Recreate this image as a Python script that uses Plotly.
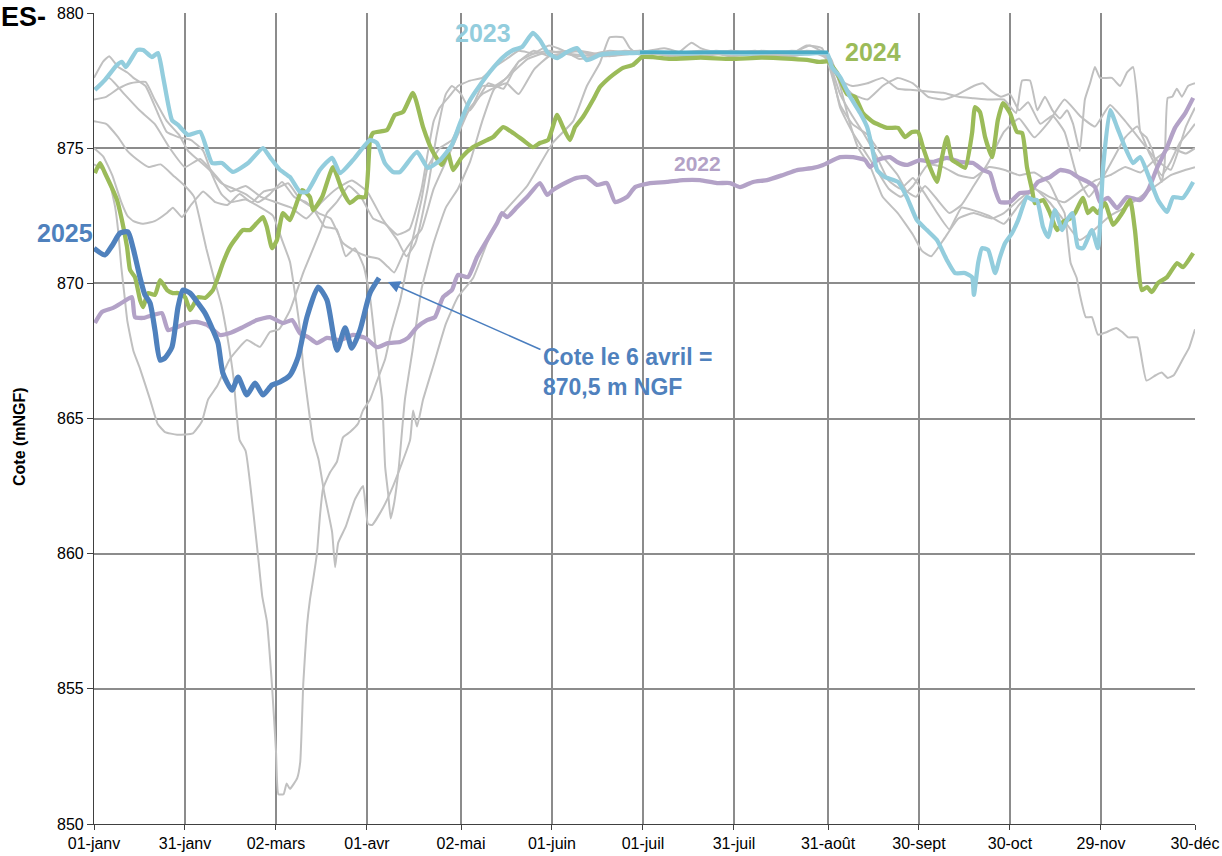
import plotly.graph_objects as go

# ---------------- data (day of year, level in m NGF) ----------------
tick_days = [0, 30, 60, 90, 121, 151, 181, 211, 242, 272, 302, 332, 363]
tick_labels = ["01-janv", "31-janv", "02-mars", "01-avr", "02-mai", "01-juin", "01-juil",
               "31-juil", "31-août", "30-sept", "30-oct", "29-nov", "30-déc"]

gray_1 = [(0,876.0),(4,875.9),(8,875.4),(11,874.9),(14,874.6),(18,874.3),(22,874.4),(26,874.0),(30,873.6),(33,873.2),
          (35,872.3),(37,871.3),(40,870.0),(42,869.2),(44,868.0),(46,866.5),(47,865.2),(48,864.2),(50,863.8),(54,860.0),
          (55.5,858.4),(57,857.5),(58.7,855.1),(60,852.7),(60.8,851.1),(62.5,851.1),(63.5,851.5),(64.6,851.3),(67,851.7),(68,852.3),
          (69,855.2),(70.2,857.3),(71.2,858.3),(72.2,859.0),(73.5,860.0),(74.5,861.4),(75.5,862.4),(77.8,863.0),(80.1,863.4),(82.1,864.3),
          (84.4,864.5),(87,864.8),(88.7,865.3),(91,865.7),(93,866.3),(96,867.2),(98,868.2),(101,869.4),(104,871.1),(106,872.1),
          (108,873.1),(110,874.3),(114,875.0),(118,875.3),(121,876.0),(125,876.6),(128,877.3),(132,877.3),(136,877.6),(140,878.2),
          (145,878.6),(150,878.4),(160,878.6),(170,878.4),(180,878.6),(190,878.5),(200,878.4),(210,878.6),(220,878.5),(230,878.4),
          (240,878.6),(243,878.3),(246,877.3),(249,876.0),(252,875.0),(256,874.3),(260,873.2),(265,872.6),(270,871.8),(273,871.2),
          (276,871.0),(280,871.6),(285,872.4),(290,872.6),(296,872.4),(300,872.6),(305,873.1),(310,873.5),(315,873.2),(320,873.0),
          (325,873.4),(330,873.8),(335,874.0),(340,874.3),(345,874.1),(350,874.6),(355,875.0),(360,874.8),(363,875.0)]

gray_2 = [(0,874.4),(3,874.2),(5,873.8),(7,872.8),(8,871.9),(9,870.6),(10,869.6),(11,868.6),(13,867.5),(15,866.9),
          (18.5,865.7),(21,864.8),(23.4,864.5),(27.4,864.4),(32.6,864.45),(35.6,864.9),(37.6,865.7),(40.6,866.2),(44.8,867.2),(50.4,867.9),
          (54.7,867.65),(58,868.2),(61,868.3),(64.6,869.0),(69,870.4),(71.2,871.0),(74.5,871.9),(76.8,872.6),(80,873.0),(84,873.6),
          (88,873.2),(92,872.4),(96,872.2),(100,871.8),(104,872.0),(108,873.5),(110,874.8),(112,876.0),(114,876.5),(117,876.9),
          (120,877.3),(124,877.5),(128,877.6),(132,878.0),(136,878.3),(140,878.6),(145,878.5),(150,878.6),(160,878.4),(170,878.6),
          (180,878.5),(190,878.5),(200,878.6),(210,878.4),(220,878.5),(230,878.6),(240,878.5),(243,878.0),(246,877.5),(250,877.3),
          (255,877.4),(260,877.6),(265,877.2),(270,877.15),(275,877.1),(280,877.05),(285,876.9),(290,876.85),(295,876.8),(300,876.8),
          (304,876.3),(306,877.5),(308.6,877.5),(311,876.4),(313.5,876.9),(316,876.4),(318.5,876.1),(320.8,876.4),(322.8,875.9),(325,874.9),
          (326.7,876.8),(328.4,877.4),(330,878.0),(331.7,877.6),(335.6,877.6),(338.3,877.3),(340.6,877.8),(342.6,878.0),(344,876.8),(345,875.6),
          (347,875.4),(349,874.9),(350.8,874.1),(352,873.75),(353,874.45),(354,876.86),(355.5,876.9),(357,877.2),(358.7,876.9),(360.7,877.3),
          (363,877.4)]

gray_3 = [(0,877.6),(3,878.2),(5,878.4),(8,878.0),(11,877.8),(13,877.6),(17,877.3),(21,876.3),(24,875.6),(28,875.4),
          (32,875.3),(36,874.9),(39,874.0),(42,873.3),(45,873.0),(50,873.1),(55,872.8),(59,872.5),(62,871.6),(64.6,870.8),
          (66.3,869.6),(68,868.2),(69,866.9),(70.5,865.6),(72.2,864.2),(74,863.5),(76,862.2),(78.5,860.8),(79.5,859.5),(80.5,860.4),
          (83,861.0),(86,862.0),(88.7,862.5),(90.3,861.1),(91.7,861.06),(95.3,861.7),(98.6,862.5),(104.2,864.2),(105.2,865.3),(106.5,864.7),
          (108.5,865.7),(112,867.0),(116,868.5),(120,869.5),(125,870.2),(130,871.6),(134.9,872.6),(142.8,873.6),(151.3,875.2),(158,876.0),
          (162.5,877.3),(166.8,878.15),(170,879.1),(174.4,879.1),(176.7,878.7),(179,878.5),(190,878.3),(197,878.9),(200,878.7),(210,878.4),
          (220,878.6),(230,878.5),(235,878.8),(240,878.7),(243,877.8),(246,876.6),(250,875.9),(255,875.5),(260,874.7),(265,874.0),
          (268,873.4),(271,873.2),(274,873.6),(278,873.1),(282,872.6),(286,872.9),(290,873.6),(295,874.5),(300,875.6),(305,876.1),
          (310,875.4),(315,876.0),(320,876.8),(325,876.2),(330,875.8),(335,876.6),(340,876.0),(345,875.3),(350,874.6),(355,874.2),
          (360,875.8),(363,876.5)]

gray_4 = [(0,875.0),(3,874.7),(6,874.0),(9,873.0),(11,872.5),(13,872.3),(16,872.2),(20,872.3),(24,872.6),(26,872.8),
          (29,872.45),(32,872.9),(36,873.4),(40,873.0),(44,872.9),(48,873.3),(52,873.0),(56,873.4),(60,873.5),(64,873.7),
          (68,873.1),(72,872.8),(76,872.1),(80,872.0),(83,871.0),(86,871.3),(89,870.6),(91,869.5),(93,867.5),(95,865.7),
          (96,863.2),(97,862.2),(97.8,861.3),(99,861.9),(100.5,863.2),(102.5,865.7),(105,867.5),(108,869.8),(112,871.5),(116,872.8),
          (120,873.5),(124,874.5),(128,876.0),(132,877.2),(136,877.4),(140,877.0),(145,877.9),(150,878.4),(155,878.5),(165,878.4),
          (175,878.6),(185,878.5),(195,878.4),(205,878.6),(215,878.5),(225,878.4),(235,878.6),(241,878.5),(243,878.0),(246,877.0),
          (250,876.2),(254,875.5),(258,874.7),(262,873.8),(266,873.5),(270,873.9),(274,873.3),(278,872.6),(282,872.0),(286,872.8),
          (290,872.7),(295,872.5),(300,872.2),(305,872.9),(310,873.5),(315,873.0),(320,872.3),(325,871.6),(330,872.0),(335,872.5),
          (340,872.8),(345,873.2),(350,873.6),(355,874.0),(360,874.2),(363,874.3)]

gray_5 = [(0,876.8),(4,876.9),(8,877.2),(12,877.4),(17,877.45),(20,876.8),(24,876.0),(28,875.5),(31,874.9),(34,874.6),
          (38,874.2),(42,873.7),(46,873.5),(50,873.3),(54,873.0),(58,873.3),(62,873.75),(66,873.2),(70,873.0),(74,872.6),
          (78,872.4),(82,871.5),(86,871.2),(90,871.0),(94,870.9),(97,870.6),(99,870.4),(102,871.1),(105,871.6),(108,872.0),
          (112,873.5),(116,874.5),(120,875.5),(124,876.5),(128,877.0),(133,877.3),(138,877.8),(143,878.3),(148,878.5),(158,878.6),
          (168,878.4),(178,878.5),(188,878.7),(198,878.4),(208,878.5),(218,878.6),(228,878.4),(238,878.5),(242,878.3),(246,876.5),
          (250,875.6),(254,874.9),(258,874.2),(262,873.5),(266,873.2),(270,873.6),(275,874.4),(280,874.3),(285,874.0),(290,873.9),
          (295,874.3),(300,874.2),(305,874.0),(310,874.1),(315,873.7),(318,873.0),(320,872.6),(322,870.75),(324,870.2),(325,869.6),
          (327,868.75),(329,868.75),(331,868.1),(334,868.2),(337,868.35),(339,868.2),(341,868.0),(344,868.0),(345,867.5),(347,866.4),
          (350,866.6),(352,866.7),(354,866.5),(356,866.6),(359,867.2),(361,867.6),(363,868.3)]

gray_6 = [(0,877.2),(5,877.6),(10,877.0),(15,876.4),(20,875.9),(25,875.0),(30,874.3),(35,874.6),(40,874.0),(45,873.4),
          (50,873.6),(55,873.2),(60,873.0),(65,872.8),(70,872.4),(75,873.0),(80,873.5),(85,873.8),(90,873.4),(95,872.4),
          (100,871.6),(103,871.0),(106,871.5),(110,873.5),(113,875.5),(116,877.0),(118,877.3),(121,877.0),(124,876.4),(127,876.9),
          (130,877.4),(135,877.2),(140,878.2),(145,878.5),(150,878.8),(155,878.6),(160,878.3),(170,878.5),(180,878.6),(190,878.4),
          (200,878.5),(210,878.6),(220,878.4),(230,878.5),(236,878.8),(241,878.5),(243,878.2),(246,877.5),(250,877.0),(255,876.8),
          (260,877.3),(265,877.6),(270,877.4),(275,876.9),(280,876.8),(285,877.0),(290,877.3),(293,877.4),(296,877.1),(299,876.9),
          (302,877.0),(305,876.4),(308,876.7),(312,875.9),(316,876.2),(320,875.6),(324,874.0),(328,873.2),(332,873.8),(336,874.6),
          (340,875.4),(344,875.8),(348,874.8),(352,874.0),(355,874.5),(358,875.2),(361,875.6),(363,875.9)]

series_2022 = [(0.3,868.53),(2.6,868.94),(6.3,869.09),(9.6,869.31),(12.5,869.49),(13.5,868.75),(16.2,868.72),(19.5,868.83),(22.4,868.9),(24.4,868.27),
               (27.4,868.38),(30.7,868.53),(34,868.57),(37.3,868.46),(41.5,868.09),(44.8,868.16),(49.1,868.38),(53.7,868.64),(58,868.75),(62.3,868.53),
               (65.3,868.64),(67.9,868.16),(70.6,868.01),(73.5,867.79),(76.8,867.98),(81.1,867.9),(85.4,868.09),(89.4,867.98),(93.3,867.64),(96.9,867.79),
               (100.9,867.83),(103.5,867.98),(106.5,868.38),(109.8,868.64),(112.4,868.75),(115.1,869.49),(118,869.75),(120,870.31),(123.3,870.23),(126.3,870.97),
               (129.6,871.6),(132.9,872.23),(134.5,872.6),(136.2,872.45),(139.5,872.82),(142.8,873.19),(147,873.71),(149.4,873.27),(151.3,873.45),(156,873.75),
               (159.2,873.9),(162.5,873.93),(165.8,873.64),(169.1,873.71),(171.8,873.01),(175.7,873.19),(178.4,873.56),(183.3,873.71),(188.9,873.75),(194.2,873.82),
               (199.8,873.82),(205.4,873.71),(209.7,873.71),(213,873.56),(217.3,873.75),(221.9,873.82),(227.2,874.01),(231.8,874.19),(237.1,874.27),(240.4,874.38),
               (246,874.67),(250.3,874.67),(254.2,874.56),(255.9,874.3),(258.2,874.56),(262.4,874.67),(264.8,874.49),(268,874.38),(272.3,874.56),(276.6,874.49),
               (281.2,874.64),(285.5,874.49),(289.8,874.45),(293.1,874.19),(295.4,874.08),(297.1,873.45),(298.7,873.01),(302,873.01),(305.3,873.34),(308.6,873.38),
               (311.2,873.75),(315.2,873.93),(318.5,874.19),(321.8,874.12),(324.4,873.93),(327.7,873.75),(330,873.56),(331.7,873.01),(334.3,873.16),(337.3,872.78),
               (340.6,873.19),(344.9,873.08),(347.5,873.45),(350.5,874.27),(353.8,875.04),(356.4,875.75),(359.8,876.3),(362.4,876.86)]

series_2023 = [(0.3,877.15),(3.6,877.52),(7.6,878.08),(9.2,878.19),(10.5,878.0),(14.2,878.63),(16.2,878.63),(19.1,878.37),(21.1,878.52),(22.8,877.63),
               (25.7,876.04),(27.7,875.86),(31,875.49),(35,875.6),(38.9,874.45),(42.2,874.45),(45.8,874.12),(50.8,874.45),(55.7,875.0),(58,874.67),
               (61.3,874.2),(64.6,873.93),(67.9,873.38),(70.2,873.38),(74.5,874.2),(78.5,874.64),(81.1,874.08),(85.4,874.56),(91,875.3),(93.3,875.19),
               (95.9,874.45),(98.6,874.12),(100.9,874.12),(106.5,874.86),(110.1,874.27),(114.1,874.56),(118,875.12),(120.7,875.93),(124,876.78),(127.3,877.34),
               (131.6,877.97),(134.9,878.37),(138.2,878.63),(141.1,878.74),(144.7,879.26),(147,879.0),(149.7,878.52),(152.7,878.33),(156,878.56),(159.2,878.7),
               (162.5,878.26),(166.8,878.45),(172.4,878.52),(177.7,878.52),(185,878.55),(195,878.5),(205,878.55),(215,878.5),(225,878.55),(235,878.5),
               (241.7,878.5),(243.3,878.0),(246,877.63),(249.3,876.9),(252.6,876.3),(254.9,875.78),(256.5,875.04),(258.2,874.19),(260.8,873.93),(265.1,873.75),
               (268,873.19),(271.3,872.34),(274.6,871.97),(277.9,871.6),(281.2,870.86),(283.9,870.38),(287.2,870.38),(289.5,870.23),(290.1,869.57),(291.5,870.75),
               (292.8,871.3),(294.8,871.23),(297.1,870.38),(298.7,870.97),(300.4,871.49),(302.7,871.86),(304.7,872.34),(307.6,873.19),(309.6,873.08),(310.9,873.08),
               (312.9,872.08),(314.6,871.71),(316.8,872.71),(319.2,871.97),(320.8,872.34),(322.5,872.6),(324.4,871.34),(326.1,871.3),(329,871.97),(331,871.3),
               (332.7,874.3),(335,876.41),(337.3,875.78),(339.9,875.04),(342.6,874.45),(344.9,874.67),(348.2,873.82),(350.8,873.08),(353.8,872.64),(355.8,873.19),
               (359,873.16),(362.4,873.75)]

series_2023_full_pool = [(180,878.55),(242,878.55)]

series_2024 = [(0.3,874.08),(2,874.45),(3.6,874.08),(5.9,873.53),(7.6,873.08),(9.2,872.34),(10.9,871.34),(11.9,870.49),(13.5,870.23),(15.2,869.38),
               (16.2,869.12),(17.8,869.64),(20.1,869.57),(21.8,870.12),(24.1,869.75),(26,869.64),(27.7,869.64),(30,869.49),(31.7,869.01),(34.3,869.49),
               (36.6,869.46),(39.2,869.75),(40.9,870.23),(42.5,870.75),(44.8,871.34),(47.1,871.71),(49.1,871.97),(51.4,871.97),(53.7,872.23),(55.7,872.45),
               (57,872.08),(58.7,871.3),(60.3,871.6),(62.3,872.6),(64.6,872.34),(68.6,873.45),(71.2,873.19),(72.2,872.71),(75.2,873.19),(78.8,874.3),
               (81.8,873.45),(84.4,872.97),(87,873.19),(89.4,873.19),(91,875.3),(92,875.56),(96.6,875.67),(99.2,876.23),(101.9,876.34),(105.2,877.04),
               (108.5,875.78),(111.4,874.93),(114.7,874.38),(116.7,874.82),(118.4,874.19),(121.3,874.67),(125,875.04),(129.6,875.3),(131.6,875.41),(134.9,875.78),
               (138.2,875.56),(141.4,875.3),(144.7,875.04),(147,875.19),(149.7,875.3),(152.7,876.23),(154.6,875.78),(156.9,875.3),(158.6,875.78),(161.2,876.15),
               (164.5,876.78),(166.8,877.26),(169.1,877.52),(171.1,877.71),(174.4,877.97),(177.7,878.08),(180.7,878.37),(184.3,878.37),(190,878.3),(200,878.35),
               (210,878.3),(220,878.35),(230,878.3),(236,878.25),(239,878.19),(242,878.2),(245,877.78),(248.3,877.0),(250.9,876.9),(253.5,876.3),
               (256.8,875.97),(261.5,875.75),(265.1,875.75),(267.4,875.41),(269.7,875.6),(271.7,875.6),(273.3,875.04),(275.6,874.3),(277.9,873.75),(279.6,874.67),
               (281.2,875.41),(282.9,874.56),(284.5,874.45),(287.2,874.27),(289.5,875.56),(290.5,876.52),(292.1,876.34),(293.8,875.41),(296.1,874.67),(298,876.04),
               (299.7,876.67),(302,876.3),(304.3,875.6),(306,875.56),(307.6,874.3),(309.3,873.45),(310.2,872.97),(312.9,873.08),(315.2,872.6),(317.5,871.97),
               (319.5,872.27),(321.8,872.4),(323.4,872.6),(326.1,873.16),(327.7,872.6),(329.4,872.78),(331,872.6),(333.3,872.97),(336,872.16),(339,872.6),
               (341.6,873.08),(343.2,871.97),(345.5,869.75),(347.2,869.86),(348.8,869.68),(350.8,870.01),(353.8,870.23),(357.1,870.75),(359,870.6),(362.4,871.12)]

series_2025 = [(0,871.3),(3.6,871.05),(6,871.4),(8.6,871.86),(11.2,871.9),(12.9,871.3),(15.2,870.2),(16.8,869.57),(18.5,869.27),(20.1,868.27),
               (21.8,867.16),(23.4,867.24),(25.7,867.64),(27.7,869.12),(29.3,869.75),(31.7,869.64),(34,869.31),(36.6,868.9),(39.2,868.27),(40.9,867.79),
               (42.5,866.68),(45.5,866.05),(47.5,866.53),(50.4,865.87),(53.1,866.31),(55.7,865.87),(58.7,866.24),(61.3,866.35),(64.6,866.6),(67.3,867.27),
               (70.2,868.75),(73.9,869.86),(76.8,869.38),(80.1,867.53),(82.8,868.35),(85,867.6),(87.7,868.27),(91,869.64),(94,870.2)]

gray_series = [gray_1, gray_2, gray_3, gray_4, gray_5, gray_6]

# ---------------- figure ----------------
W, H = 1222, 856
ML, MR, MT, MB = 94, 27, 13, 32
PW, PH = W - ML - MR, H - MT - MB

fig = go.Figure()


def add_line(pts, color, width, smooth=0.5):
    xs = [p[0] for p in pts]
    ys = [p[1] for p in pts]
    fig.add_trace(go.Scatter(x=xs, y=ys, mode="lines",
                             line=dict(color=color, width=width, shape="spline", smoothing=smooth),
                             hoverinfo="skip", showlegend=False))


for g in gray_series:
    add_line(g, "#C0C0C0", 2.0, 0.4)
add_line(series_2022, "#B3A2C7", 4.3)
add_line(series_2024, "#9BBB59", 4.3)
add_line(series_2023, "#93CDDD", 4.3)
add_line(series_2023_full_pool, "#4BACC6", 3.5)
add_line(series_2025, "#4F81BD", 5.2, 0.6)

grid_col = "#8C8C8C"
fig.update_xaxes(range=[0, 363], tickmode="array", tickvals=tick_days, ticktext=tick_labels,
                 showgrid=True, gridcolor=grid_col, gridwidth=1.5, zeroline=False,
                 showline=True, linecolor="#404040", linewidth=1.2, automargin=False,
                 ticks="outside", ticklen=5, tickcolor="#404040",
                 tickfont=dict(size=16, color="#000000"))
fig.update_yaxes(range=[850, 880], tickmode="linear", tick0=850, dtick=5,
                 showgrid=True, gridcolor=grid_col, gridwidth=1.5, zeroline=False,
                 showline=True, linecolor="#404040", linewidth=1.2, automargin=False,
                 ticks="outside", ticklen=6, tickcolor="#404040",
                 tickfont=dict(size=16, color="#000000"))


def px_x(px):
    return (px - ML) / PW


def px_y(py):
    return (H - MB - py) / PH


annotations = [
    dict(x=128.3, y=879.26, xref="x", yref="y", xanchor="center", text="<b>2023</b>", showarrow=False,
         font=dict(size=25, color="#93CDDD")),
    dict(x=256.8, y=878.56, xref="x", yref="y", xanchor="center", text="<b>2024</b>", showarrow=False,
         font=dict(size=25, color="#9BBB59")),
    dict(x=199.1, y=874.45, xref="x", yref="y", xanchor="center", text="<b>2022</b>", showarrow=False,
         font=dict(size=21, color="#B3A2C7")),
    dict(x=px_x(65), y=px_y(233), xref="paper", yref="paper", xanchor="center", text="<b>2025</b>", showarrow=False,
         font=dict(size=25, color="#4F81BD")),
    dict(x=px_x(-1), y=px_y(17), xref="paper", yref="paper", xanchor="left", text="<b>ES-</b>", showarrow=False,
         font=dict(size=27, color="#000000")),
    dict(x=px_x(19), y=px_y(436), xref="paper", yref="paper", xanchor="center", text="<b>Cote (mNGF)</b>", showarrow=False,
         textangle=-90, font=dict(size=16, color="#000000",
                                  family="Liberation Sans Narrow, Arial Narrow, Liberation Sans, sans-serif")),
    dict(x=147.3, y=866.72, xref="x", yref="y", xanchor="left", align="left",
         text="<b>Cote le 6 avril =<br>870,5 m NGF</b>", showarrow=False,
         font=dict(size=23, color="#4F81BD")),
    dict(x=96.9, y=870.05, xref="x", yref="y", ax=147.7, ay=867.53, axref="x", ayref="y",
         text="", showarrow=True, arrowhead=2, arrowsize=1.6, arrowwidth=1.5, arrowcolor="#4A7EBF"),
]
for a in annotations:
    a.setdefault("yanchor", "middle")
fig.update_layout(annotations=annotations)

fig.update_layout(width=W, height=H, margin=dict(l=ML, r=MR, t=MT, b=MB, autoexpand=False),
                  plot_bgcolor="white", paper_bgcolor="white", showlegend=False,
                  font=dict(family="Liberation Sans, Arial, sans-serif", color="#000000"))

fig.write_html("out.html", config={"displayModeBar": False},
               post_script="document.body.style.margin='0';")
